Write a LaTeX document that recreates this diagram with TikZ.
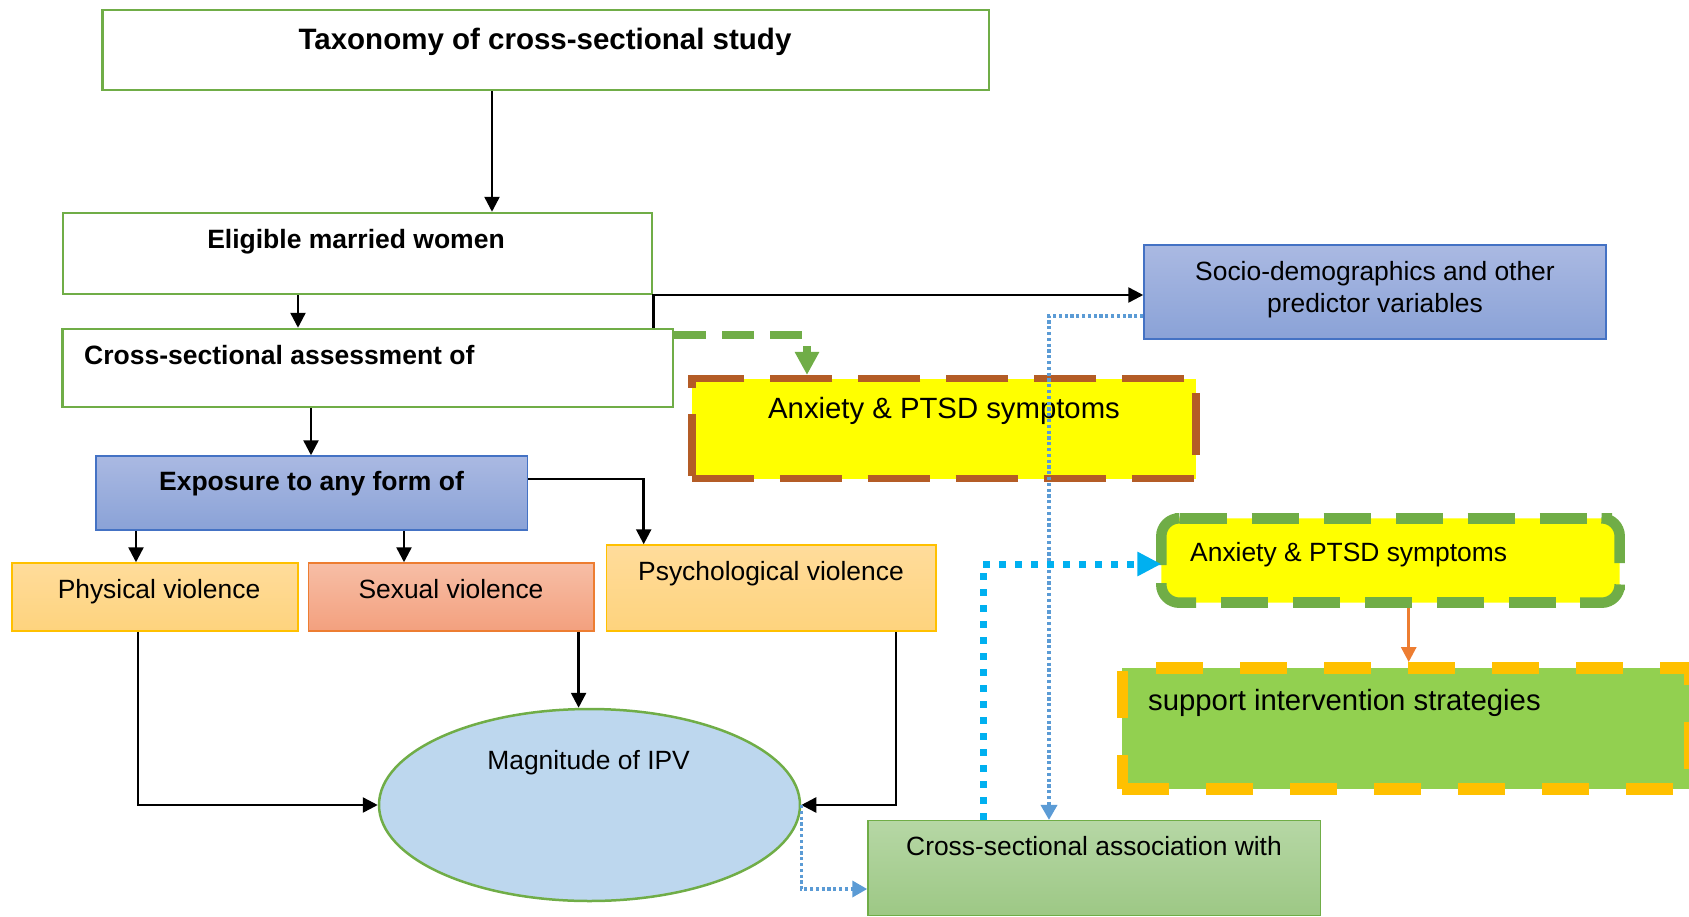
\documentclass[tikz,border=0pt]{standalone}
\usepackage{fontspec}
\setmainfont{Liberation Sans}
\usetikzlibrary{arrows.meta,shapes.geometric}

\definecolor{boxgreen}{HTML}{70AD47}
\definecolor{boxblue}{HTML}{4472C4}
\definecolor{blueTop}{RGB}{170,185,226}
\definecolor{blueBot}{RGB}{138,162,215}
\definecolor{amber}{HTML}{FFC000}
\definecolor{amberTop}{RGB}{255,220,155}
\definecolor{amberBot}{RGB}{254,211,125}
\definecolor{coral}{HTML}{ED7D31}
\definecolor{coralTop}{RGB}{247,190,166}
\definecolor{coralBot}{RGB}{243,160,126}
\definecolor{skyfill}{HTML}{BDD7EE}
\definecolor{sageTop}{RGB}{182,215,165}
\definecolor{sageBot}{RGB}{157,200,133}
\definecolor{rust}{RGB}{180,92,38}
\definecolor{lime}{HTML}{92D050}
\definecolor{dotblue}{HTML}{5B9BD5}
\definecolor{cyanline}{HTML}{00B0F0}
\definecolor{brightyellow}{RGB}{255,255,0}

\tikzset{
  whitebox/.style={draw=boxgreen, line width=2.5pt, fill=white, inner sep=0},
  bluebox/.style={draw=boxblue, line width=1.5pt, top color=blueTop, bottom color=blueBot, inner sep=0},
  amberbox/.style={draw=amber, line width=1.5pt, top color=amberTop, bottom color=amberBot, inner sep=0},
  coralbox/.style={draw=coral, line width=1.5pt, top color=coralTop, bottom color=coralBot, inner sep=0},
  sagebox/.style={draw=boxgreen, line width=1.5pt, top color=sageTop, bottom color=sageBot, inner sep=0},
  rustbox/.style={draw=rust, line width=7.5pt, dash pattern=on 62pt off 26pt, fill=brightyellow, inner sep=0},
  limebox/.style={draw=amber, line width=11.5pt, dash pattern=on 47pt off 37pt, fill=lime, inner sep=0},
  roundyellow/.style={fill=brightyellow, rounded corners=18pt, inner sep=0, outer sep=0},
  roundedge/.style={draw=boxgreen, line width=10.5pt, rounded corners=18pt},
  roundedgedash/.style={draw=boxgreen, line width=10.5pt, dash pattern=on 47.5pt off 24.5pt},
  hbig/.style={font=\fontsize{29.5}{34}\selectfont\bfseries, inner sep=0},
  hmid/.style={font=\fontsize{26.5}{32}\selectfont\bfseries, inner sep=0},
  tmid/.style={font=\fontsize{26.4}{32}\selectfont, inner sep=0, align=center},
  tbig/.style={font=\fontsize{29.3}{34}\selectfont, inner sep=0},
  blk/.style={draw=black, line width=2.5pt, -{Triangle[length=15pt,width=15pt]}},
  gdash/.style={draw=boxgreen, line width=7.3pt, dash pattern=on 32pt off 16pt, -{Triangle[length=23pt,width=23pt]}},
  lbdot/.style={draw=dotblue, line width=3.5pt, dash pattern=on 3.2pt off 2.6pt, -{Triangle[length=15pt,width=16pt]}},
  cydot/.style={draw=cyanline, line width=7pt, dash pattern=on 7pt off 9pt, -{Triangle[length=24pt,width=23pt]}},
  orarr/.style={draw=coral, line width=3pt, -{Triangle[length=15pt,width=15pt]}}
}

\begin{document}
\begin{tikzpicture}[x=1pt,y=-1pt]
\useasboundingbox (0,0) rectangle (1689,916);
\clip (0,0) rectangle (1689,916);

% ---- boxes of the left column ----
\node[whitebox, minimum width=886.5pt, minimum height=80pt] (tax) at (545.5,50) {};
\node[whitebox, minimum width=589pt, minimum height=81pt] (elig) at (357.4,253.5) {};
\node[whitebox, minimum width=610.5pt, minimum height=78pt] (cross) at (367.8,368) {};
\node[bluebox, minimum width=431.6pt, minimum height=74pt] (expo) at (311.8,493) {};
\node[amberbox, minimum width=285.7pt, minimum height=68pt] (phys) at (154.9,597) {};
\node[coralbox, minimum width=285.7pt, minimum height=68pt] (sexv) at (451.2,597) {};
\node[amberbox, minimum width=329.7pt, minimum height=86pt] (psy) at (771.2,588) {};
\node[ellipse, draw=boxgreen, line width=2.5pt, fill=skyfill, inner sep=0,
      minimum width=421pt, minimum height=192pt] (ipv) at (589.5,805) {};

% ---- boxes of the right part ----
\node[bluebox, minimum width=462pt, minimum height=94pt] (socio) at (1375,292) {};
\node[rustbox, minimum width=504.4pt, minimum height=99.8pt] (anx1) at (944,428.6) {};
\node[roundyellow, minimum width=458.4pt, minimum height=84.4pt] (anx2) at (1390.5,560.5) {};
% dashed rounded frame of the second symptoms box, side by side
\draw[roundedge] (1161.3,565) -- (1161.3,518.3) -- (1175,518.3);
\draw[roundedgedash] (1179.6,518.3) -- (1590,518.3);
\draw[roundedge] (1612,518.3) -- (1619.7,518.3) -- (1619.7,563);
\draw[roundedge] (1619.7,590) -- (1619.7,602.7) -- (1580,602.7);
\draw[roundedgedash] (1556,602.7) -- (1219,602.7);
\draw[roundedge] (1196,602.7) -- (1161.3,602.7) -- (1161.3,583);
\node[limebox, minimum width=567.6pt, minimum height=121.2pt] (sup) at (1406.2,728.4) {};
\node[sagebox, minimum width=452.6pt, minimum height=94.6pt] (assoc) at (1094.3,868) {};

% ---- texts ----
\node[hbig, anchor=base] (taxT) at (545,49) {Taxonomy of cross-sectional study};
\node[hmid, anchor=base] (eligT) at (356,248) {Eligible married women};
\node[hmid, anchor=base west] (crossT) at (84,364) {Cross-sectional assessment of};
\node[hmid, anchor=base] (expoT) at (311.5,490.7) {Exposure to any form of};
\node[tmid, anchor=base] (physT) at (159,598) {Physical violence};
\node[tmid, anchor=base] (sexT) at (451,598) {Sexual violence};
\node[tmid, anchor=base] (psyT) at (771,580) {Psychological violence};
\node[tmid, anchor=base] (ipvT) at (588.6,769) {Magnitude of IPV};
\node[tmid, anchor=base] (socioT) at (1375,312.7) {Socio-demographics and other\\predictor variables};
\node[tbig, anchor=base] (anx1T) at (944,418) {Anxiety \& PTSD symptoms};
\node[tmid, anchor=base west] (anx2T) at (1190,561.7) {Anxiety \& PTSD symptoms};
\node[tbig, anchor=base west] (supT) at (1148,710) {support intervention strategies};
\node[tmid, anchor=base] (assocT) at (1094,855) {Cross-sectional association with};

% ---- routing positions ----
\coordinate (xTax) at (492,0);
\coordinate (xElig) at (298,0);
\coordinate (xCross) at (311,0);
\coordinate (xPh) at (136,0);
\coordinate (xSx) at (404,0);
\coordinate (xPs) at (643.7,0);
\coordinate (yExp) at (0,479);
\coordinate (xPhB) at (138,0);
\coordinate (xSxB) at (578.6,0);
\coordinate (xPsB) at (896,0);
\coordinate (xJ) at (653.6,0);
\coordinate (yJ) at (0,295);
\coordinate (xG) at (807,0);
\coordinate (yG) at (0,335);
\coordinate (xLB) at (1049,0);
\coordinate (ySo) at (0,316);
\coordinate (yLo) at (0,889);
\coordinate (xCy) at (983,0);
\coordinate (yCy) at (0,564);
\coordinate (xOr) at (1408.7,0);
\coordinate (yOr) at (0,608);

% ---- black connectors ----
\draw[blk] (xTax |- tax.south) -- (xTax |- elig.north);
\draw[blk] (xElig |- elig.south) -- (xElig |- cross.north);
\draw[blk] (xJ |- cross.north) -- (xJ |- yJ) -- (socio.west |- yJ);
\draw[blk] (xCross |- cross.south) -- (xCross |- expo.north);
\draw[blk] (xPh |- expo.south) -- (xPh |- phys.north);
\draw[blk] (xSx |- expo.south) -- (xSx |- sexv.north);
\draw[blk] (expo.east |- yExp) -- (xPs |- yExp) -- (xPs |- psy.north);
\draw[blk] (xPhB |- phys.south) -- (xPhB |- ipv.west) -- (ipv.west);
\draw[blk] (xSxB |- sexv.south) -- (xSxB |- ipv.north);
\draw[blk] (xPsB |- psy.south) -- (xPsB |- ipv.east) -- (ipv.east);

% ---- coloured connectors ----
\draw[gdash] (cross.east |- yG) -- (xG |- yG) -- (xG |- anx1.north);
\draw[lbdot] (socio.west |- ySo) -- (xLB |- ySo) -- (xLB |- assoc.north);
\draw[lbdot] (ipv.east) -- (ipv.east |- yLo) -- (assoc.west |- yLo);
\draw[cydot] (xCy |- assoc.north) -- (xCy |- yCy) -- (anx2.west |- yCy);
\draw[orarr] (xOr |- yOr) -- (xOr |- sup.north);
\end{tikzpicture}
\end{document}
